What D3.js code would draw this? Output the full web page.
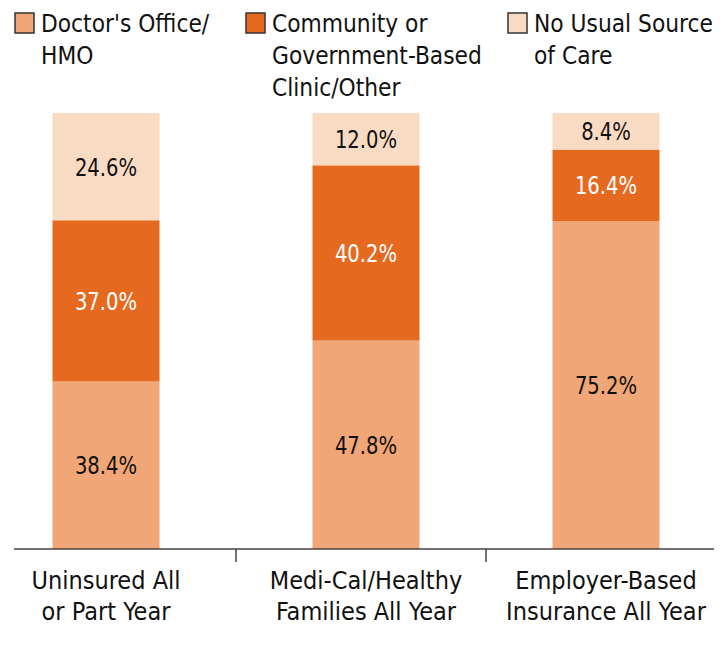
<!DOCTYPE html>
<html>
<head>
<meta charset="utf-8">
<script src="https://cdn.jsdelivr.net/npm/d3@7"></script>
<style>
  body { margin: 0; background: #fff; }
  svg text { font-family: "Liberation Sans Narrow", "DejaVu Sans Condensed", "Arial Narrow", sans-serif; }
</style>
</head>
<body>
<svg width="727" height="646"></svg>
<script>
// chart data
var categories = [["Uninsured All", "or Part Year"], ["Medi-Cal/Healthy", "Families All Year"], ["Employer-Based", "Insurance All Year"]];
var seriesNames = [["Doctor's Office/", "HMO"], ["Community or", "Government-Based", "Clinic/Other"], ["No Usual Source", "of Care"]];
var doctorOffice = [38.4, 47.8, 75.2];
var clinicOther = [37.0, 40.2, 16.4];
var noSource = [24.6, 12.0, 8.4];

var colors = ["#f0a676", "#e56a20", "#f9dbc4"];
var labelColors = ["#111", "#fff", "#111"];

var svg = d3.select("svg");
var baseY = 549;

var keys = categories.map(function(c) { return c.join(" "); });
var x = d3.scaleOrdinal().domain(keys).range([106, 366, 606]);
var barW = 107;
var y = d3.scaleLinear().domain([0, 100]).range([baseY, 113]);

// build stack input
var rows = keys.map(function(k, i) {
    return { key: k, s0: doctorOffice[i], s1: clinicOther[i], s2: noSource[i] };
});
var stack = d3.stack().keys(["s0", "s1", "s2"])(rows);

var g = svg.append("g");
stack.forEach(function(layer, li) {
    var seg = g.selectAll(".seg" + li)
        .data(layer)
        .enter().append("g");
    seg.append("rect")
        .attr("x", function(d) { return x(d.data.key) - barW / 2; })
        .attr("y", function(d) { return y(d[1]); })
        .attr("width", barW)
        .attr("height", function(d) { return y(d[0]) - y(d[1]); })
        .attr("fill", colors[li]);
    // narrow the value labels a bit, the original face is condensed
    seg.append("text")
        .attr("transform", function(d) {
            return "translate(" + x(d.data.key) + "," + (y(d[0]) + y(d[1])) / 2 + ") scale(0.87,1)";
        })
        .attr("dy", "0.36em")
        .attr("text-anchor", "middle")
        .style("font-size", "25px")
        .style("fill", labelColors[li])
        .text(function(d) { return (d[1] - d[0]).toFixed(1) + "%"; });
});

// axis line and separators
svg.append("line")
    .attr("x1", 14).attr("x2", 714)
    .attr("y1", baseY).attr("y2", baseY)
    .attr("stroke", "#4a4040").attr("stroke-width", 1.5);

var seps = [];
for (var i = 0; i < keys.length - 1; i++) {
    seps.push((x(keys[i]) + x(keys[i + 1])) / 2);
}
svg.selectAll(".sep").data(seps).enter().append("line")
    .attr("x1", function(d) { return d; }).attr("x2", function(d) { return d; })
    .attr("y1", baseY).attr("y2", baseY + 13)
    .attr("stroke", "#4a4040").attr("stroke-width", 1.5);

// category labels
var cat = svg.selectAll(".cat").data(categories).enter().append("text")
    .attr("text-anchor", "middle")
    .style("font-size", "25px")
    .style("fill", "#111");
cat.selectAll("tspan")
    .data(function(d, i) { return d.map(function(t) { return { t: t, i: i }; }); })
    .enter().append("tspan")
    .attr("x", function(d) { return x(keys[d.i]); })
    .attr("y", function(d, j) { return 589 + j * 31; })
    .text(function(d) { return d.t; });

// legend
var legendX = [14, 245, 507];
var leg = svg.selectAll(".leg").data(seriesNames).enter().append("g")
    .attr("transform", function(d, i) { return "translate(" + legendX[i] + ",0)"; });
leg.append("rect")
    .attr("x", 1).attr("y", 13)
    .attr("width", 19).attr("height", 20)
    .attr("fill", function(d, i) { return colors[i]; })
    .attr("stroke", "#333").attr("stroke-width", 1.5);
leg.append("text")
    .attr("transform", "translate(27,0) scale(0.97,1)")
    .style("font-size", "25px")
    .style("fill", "#111")
    .selectAll("tspan")
    .data(function(d) { return d; })
    .enter().append("tspan")
    .attr("x", 0)
    .attr("y", function(d, j) { return 32 + j * 32; })
    .text(function(d) { return d; });
</script>
</body>
</html>
